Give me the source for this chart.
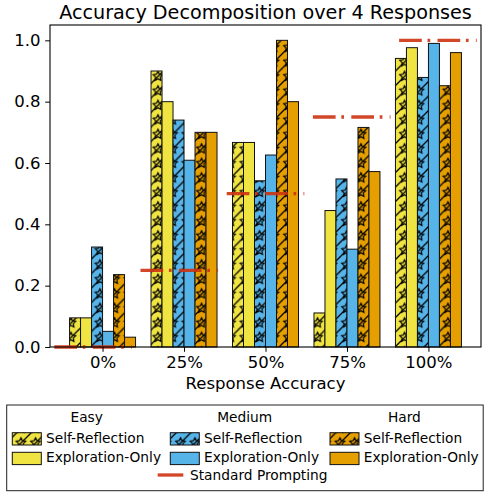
<!DOCTYPE html>
<html>
<head>
<meta charset="utf-8">
<script src="https://cdn.jsdelivr.net/npm/d3@7"></script>
<style>
  html, body { margin: 0; padding: 0; background: white; }
  #chart { width: 486px; height: 493px; }
</style>
</head>
<body>
<div id="chart"></div>
<script>
// Data
const categories = ["0%", "25%", "50%", "75%", "100%"];
const easySelfReflection = [0.095, 0.9, 0.667, 0.111, 0.941];
const easyExplorationOnly = [0.095, 0.8, 0.667, 0.445, 0.976];
const mediumSelfReflection = [0.326, 0.74, 0.542, 0.548, 0.879];
const mediumExplorationOnly = [0.051, 0.609, 0.626, 0.319, 0.99];
const hardSelfReflection = [0.236, 0.7, 1.0, 0.716, 0.852];
const hardExplorationOnly = [0.032, 0.7, 0.8, 0.572, 0.96];
const standardPrompting = [0, 0.25, 0.5, 0.75, 1.0];
const yTicks = [0, 0.2, 0.4, 0.6, 0.8, 1.0];
const difficulties = ["Easy", "Medium", "Hard"];
const methods = ["Self-Reflection", "Exploration-Only"];

const colors = { Easy: "#F0E442", Medium: "#56B4E9", Hard: "#E69F00" };
const lineColor = "#cc3311";

const series = [
  { difficulty: "Easy", method: "Self-Reflection", values: easySelfReflection },
  { difficulty: "Easy", method: "Exploration-Only", values: easyExplorationOnly },
  { difficulty: "Medium", method: "Self-Reflection", values: mediumSelfReflection },
  { difficulty: "Medium", method: "Exploration-Only", values: mediumExplorationOnly },
  { difficulty: "Hard", method: "Self-Reflection", values: hardSelfReflection },
  { difficulty: "Hard", method: "Exploration-Only", values: hardExplorationOnly },
];

const font = "DejaVu Sans";
const barWidth = 0.135;

let dimensions = {
  width: 486,
  height: 493,
  margins: { top: 25, right: 5, bottom: 146, left: 50 },
};
dimensions.boundedWidth =
  dimensions.width - dimensions.margins.left - dimensions.margins.right;
dimensions.boundedHeight =
  dimensions.height - dimensions.margins.top - dimensions.margins.bottom;

const wrapper = d3
  .select("#chart")
  .append("svg")
  .attr("width", dimensions.width)
  .attr("height", dimensions.height)
  .style("background-color", "white");

// hatch patterns "/*"
const defs = wrapper.append("defs");
const starPath = (cx, cy, r) => {
  const pts = d3.range(10).map((i) => {
    const a = -Math.PI / 2 + (i * Math.PI) / 5;
    const rr = i % 2 ? r * 0.5 : r;
    return [cx + rr * Math.cos(a), cy + rr * Math.sin(a)];
  });
  return "M" + pts.map((p) => p.join(",")).join("L") + "Z";
};
difficulties.forEach((d) => {
  const p = defs
    .append("pattern")
    .attr("id", "hatch-" + d)
    .attr("patternUnits", "userSpaceOnUse")
    .attr("width", 14.5)
    .attr("height", 14.5);
  p.append("rect").attr("width", 14.5).attr("height", 14.5).attr("fill", colors[d]);
  p.append("path")
    .attr("d", "M-2,16.5L16.5,-2M-2,2L2,-2M12.5,16.5L16.5,12.5")
    .attr("stroke", "black")
    .attr("stroke-width", 1.3);
  p.append("path")
    .attr("d", starPath(6.5, 7.8, 5))
    .attr("fill", "none")
    .attr("stroke", "black")
    .attr("stroke-width", 1.2);
});

const bounds = wrapper
  .append("g")
  .style(
    "transform",
    `translate(${dimensions.margins.left}px, ${dimensions.margins.top}px)`
  );

//Create scales
const xScale = d3
  .scaleLinear()
  .domain([-0.645, categories.length - 1 + 0.645])
  .range([0, dimensions.boundedWidth]);

const yScale = d3
  .scaleLinear()
  .domain([0, 1.05])
  .range([dimensions.boundedHeight, 0]);

//Draw bars
series.forEach((s, j) => {
  const offset = (j - 2.5) * barWidth;
  bounds
    .append("g")
    .selectAll("rect")
    .data(s.values)
    .join("rect")
    .attr("x", (d, i) => xScale(i + offset - barWidth / 2))
    .attr("width", xScale(barWidth) - xScale(0))
    .attr("y", (d) => yScale(d))
    .attr("height", (d) => yScale(0) - yScale(d))
    .attr(
      "fill",
      s.method === "Self-Reflection"
        ? `url(#hatch-${s.difficulty})`
        : colors[s.difficulty]
    )
    .attr("stroke", "#111")
    .attr("stroke-width", 1);
});

//Standard prompting lines, each spanning its fifth of the axes
const [x0, x1] = xScale.domain();
const frac = (f) => xScale(x0 + f * (x1 - x0));
bounds
  .append("g")
  .selectAll("line")
  .data(standardPrompting)
  .join("line")
  .attr("x1", (d, i) => frac(i / categories.length + 0.01))
  .attr("x2", (d, i) => frac((i + 1) / categories.length - 0.01))
  .attr("y1", (d) => yScale(d))
  .attr("y2", (d) => yScale(d))
  .attr("stroke", lineColor)
  .attr("stroke-opacity", 0.9)
  .attr("stroke-width", 3.3)
  .attr("stroke-dasharray", "22.7,5.7,2.7,7.3");

//Draw axis
const yAxis = d3
  .axisLeft(yScale)
  .tickValues(yTicks)
  .tickSize(4.8)
  .tickPadding(4.8)
  .tickFormat(d3.format(".1f"));

const xAxis = d3
  .axisBottom(xScale)
  .tickValues(d3.range(categories.length))
  .tickSize(4.8)
  .tickPadding(4.8)
  .tickFormat((d, i) => categories[i]);

bounds
  .append("g")
  .call(yAxis)
  .call((g) => g.select(".domain").remove())
  .attr("font-size", 16.5)
  .attr("font-family", font)
  .attr("color", "black");

bounds
  .append("g")
  .call(xAxis)
  .style("transform", `translateY(${dimensions.boundedHeight}px)`)
  .call((g) => g.select(".domain").remove())
  .attr("font-size", 16.5)
  .attr("font-family", font)
  .attr("color", "black");

// frame
bounds
  .append("rect")
  .attr("width", dimensions.boundedWidth)
  .attr("height", dimensions.boundedHeight)
  .attr("fill", "none")
  .attr("stroke", "black")
  .attr("stroke-width", 1.1);

// title and axis label
wrapper
  .append("text")
  .attr("x", dimensions.margins.left + dimensions.boundedWidth / 2)
  .attr("y", 18.5)
  .attr("text-anchor", "middle")
  .attr("font-family", font)
  .attr("font-size", 19.2)
  .text("Accuracy Decomposition over 4 Responses");

wrapper
  .append("text")
  .attr("x", dimensions.margins.left + dimensions.boundedWidth / 2)
  .attr("y", 388.7)
  .attr("text-anchor", "middle")
  .attr("font-family", font)
  .attr("font-size", 16.5)
  .text("Response Accuracy");

//Legend
const legend = wrapper.append("g").attr("font-family", font).attr("font-size", 13.75);
legend
  .append("rect")
  .attr("x", 6.7)
  .attr("y", 405)
  .attr("width", 476.5)
  .attr("height", 85.7)
  .attr("fill", "white")
  .attr("stroke", "#222")
  .attr("stroke-width", 1);

const colX = [12.3, 170.3, 330];
const rowY = [442.7, 462.3];
difficulties.forEach((d, c) => {
  const gx = colX[c];
  legend
    .append("text")
    .attr("x", gx + 74.4)
    .attr("y", 422.3)
    .attr("text-anchor", "middle")
    .text(d);
  methods.forEach((m, r) => {
    legend
      .append("rect")
      .attr("x", gx)
      .attr("y", rowY[r] - 10)
      .attr("width", 29)
      .attr("height", 12.3)
      .attr("fill", m === "Self-Reflection" ? `url(#hatch-${d})` : colors[d])
      .attr("stroke", "#111")
      .attr("stroke-width", 1);
    legend
      .append("text")
      .attr("x", gx + 33.7)
      .attr("y", rowY[r])
      .text(m);
  });
});

legend
  .append("line")
  .attr("x1", 157.7)
  .attr("x2", 183.3)
  .attr("y1", 475)
  .attr("y2", 475)
  .attr("stroke", lineColor)
  .attr("stroke-opacity", 0.9)
  .attr("stroke-width", 3.3);
legend
  .append("text")
  .attr("x", 190)
  .attr("y", 480)
  .text("Standard Prompting");
</script>
</body>
</html>
